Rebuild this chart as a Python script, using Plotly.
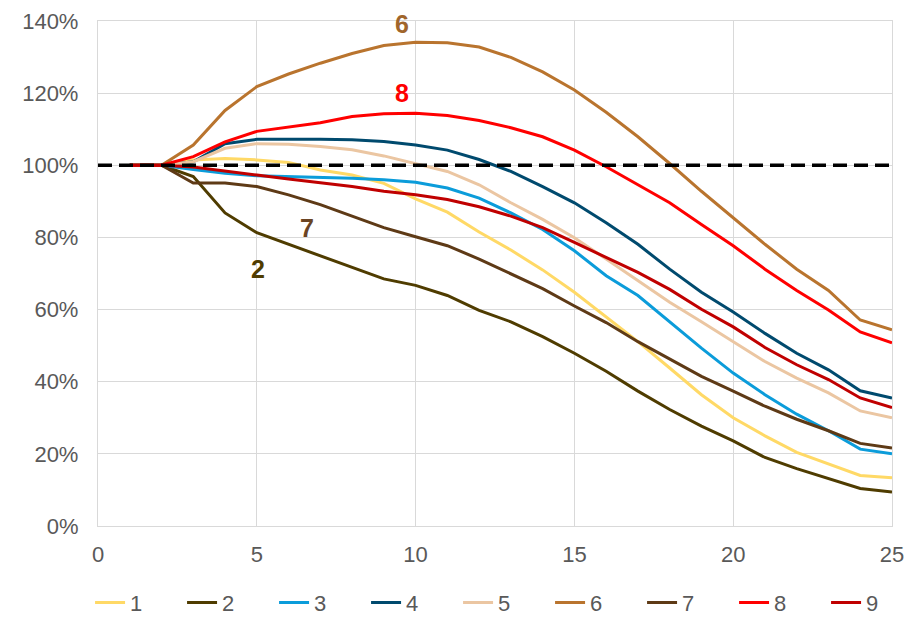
import plotly.graph_objects as go

x_vals = list(range(1, 26))

s1 = [100, 100, 101.5, 101.9, 101.5, 100.8, 98.7, 97.3, 95.0, 90.7, 87.0, 81.5, 76.5, 71.0, 64.8,
      58.0, 51.1, 43.8, 36.4, 30.0, 25.0, 20.4, 17.2, 14.0, 13.4]
s2 = [100, 100, 96.9, 86.8, 81.3, 78.1, 74.9, 71.7, 68.5, 66.7, 63.9, 59.8, 56.6, 52.5, 47.9,
      42.9, 37.4, 32.3, 27.7, 23.6, 19.0, 15.9, 13.1, 10.4, 9.4]
s3 = [100, 100, 98.8, 97.8, 97.1, 96.9, 96.7, 96.4, 96.0, 95.3, 93.7, 90.9, 86.8, 82.2, 76.3,
      69.4, 63.9, 56.6, 49.3, 42.4, 36.4, 31.0, 26.4, 21.3, 20.0]
s4 = [100, 100, 101.0, 106.0, 107.2, 107.3, 107.2, 107.1, 106.6, 105.6, 104.2, 101.6, 98.3, 94.1, 89.6,
      84.1, 78.1, 71.2, 64.8, 59.3, 53.4, 47.9, 43.3, 37.5, 35.5]
s5 = [100, 100, 101.0, 104.7, 106.0, 105.8, 105.2, 104.3, 102.6, 100.5, 98.3, 94.6, 89.6, 85.0, 79.9,
      74.0, 68.0, 62.0, 56.6, 51.1, 45.6, 41.0, 36.9, 31.9, 30.0]
s6 = [100, 100, 105.6, 115.2, 121.8, 125.3, 128.3, 131.0, 133.2, 134.1, 134.0, 132.8, 129.9, 125.9, 120.9,
      114.7, 107.9, 100.5, 92.8, 85.4, 78.1, 71.2, 65.3, 57.1, 54.4]
s7 = [100, 100, 95.1, 95.1, 94.1, 91.8, 89.1, 85.9, 82.7, 80.2, 77.7, 74.0, 69.9, 65.8, 61.0,
      56.4, 51.1, 46.3, 41.5, 37.4, 33.2, 29.6, 26.4, 22.9, 21.6]
s8 = [100, 100, 102.4, 106.5, 109.4, 110.7, 111.8, 113.5, 114.3, 114.4, 113.8, 112.4, 110.4, 107.9, 104.2,
      99.6, 94.6, 89.6, 83.6, 77.7, 71.2, 65.3, 59.9, 53.8, 50.8]
s9 = [100, 100, 99.5, 98.3, 97.3, 96.2, 95.2, 94.1, 92.8, 91.8, 90.5, 88.5, 85.9, 82.7, 78.6,
      74.5, 70.3, 65.6, 60.1, 55.2, 49.5, 44.7, 40.6, 35.5, 32.8]

series_names = ["1", "2", "3", "4", "5", "6", "7", "8", "9"]
series_values = [s1, s2, s3, s4, s5, s6, s7, s8, s9]
series_colors = ["#FFD966", "#4F3C00", "#0B9CDA", "#004A6E", "#EBC6A2",
                 "#B9742E", "#5E3A16", "#FF0000", "#C00000"]

reference_level = 100

label_names = ["6", "8", "7", "2"]
label_x = [9.57, 9.57, 6.58, 5.04]
label_y = [139.3, 120.0, 82.7, 71.2]
label_colors = ["#A0652B", "#FF0000", "#6B4423", "#4F3C00"]

y_ticks = [0, 20, 40, 60, 80, 100, 120, 140]
y_tick_labels = ["0%", "20%", "40%", "60%", "80%", "100%", "120%", "140%"]
x_ticks = [0, 5, 10, 15, 20, 25]
x_tick_labels = ["0", "5", "10", "15", "20", "25"]

fig = go.Figure()
for name, vals, col in zip(series_names, series_values, series_colors):
    fig.add_trace(go.Scatter(x=x_vals, y=vals, name=name, mode="lines",
                             line=dict(color=col, width=3)))

fig.add_hline(y=reference_level, line=dict(color="black", width=3.5, dash="14px,7px"), layer="above")

for t, lx, ly, c in zip(label_names, label_x, label_y, label_colors):
    fig.add_annotation(x=lx, y=ly, text="<b>" + t + "</b>", showarrow=False,
                       font=dict(family="Liberation Sans, Arial", size=25, color=c))

tick_font = dict(family="Liberation Sans, Arial", size=22, color="#595959")

fig.update_layout(
    width=912, height=609,
    margin=dict(l=90, r=28, t=13, b=91, autoexpand=False),
    paper_bgcolor="white", plot_bgcolor="white",
    showlegend=True,
    legend=dict(orientation="h", x=-0.01, xanchor="left", y=-0.152, yanchor="middle",
                entrywidth=47, entrywidthmode="pixels",
                font=dict(family="Liberation Sans Narrow, Arial Narrow, Liberation Sans", size=22,
                          color="#595959")),
    xaxis=dict(range=[0, 25], tickmode="array", tickvals=x_ticks, ticktext=x_tick_labels,
               showgrid=True, gridcolor="#D9D9D9", gridwidth=1.3,
               showline=True, mirror=True, linecolor="#D9D9D9", linewidth=1.3, zeroline=False,
               tickfont=tick_font, ticks="outside", ticklen=8, tickcolor="rgba(0,0,0,0)",
               automargin=False, ticklabeloverflow="allow"),
    yaxis=dict(range=[0, 140], tickmode="array", tickvals=y_ticks, ticktext=y_tick_labels,
               showgrid=True, gridcolor="#D9D9D9",
               gridwidth=1.3, showline=True, mirror=True, linecolor="#D9D9D9", linewidth=1.3,
               zeroline=False,
               tickfont=tick_font, ticks="outside", ticklen=14, tickcolor="rgba(0,0,0,0)",
               automargin=False, ticklabeloverflow="allow"),
)

fig.write_html("out.html")
